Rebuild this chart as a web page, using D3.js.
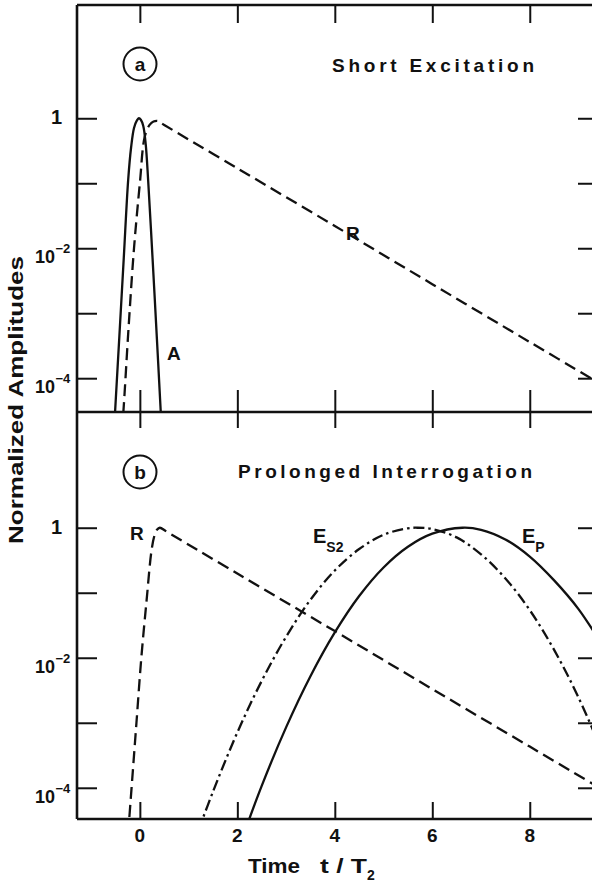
<!DOCTYPE html>
<html>
<head>
<meta charset="utf-8">
<script src="https://cdn.jsdelivr.net/npm/d3@7"></script>
<style>
  html, body { margin: 0; padding: 0; background: #fff; }
  svg { display: block; }
  text { font-family: "Liberation Sans", Arial, sans-serif; font-weight: bold; fill: #111; }
</style>
</head>
<body>
<svg id="chart" width="592" height="885"></svg>
<script>
// ---------- data ----------
const xTicks = [0, 2, 4, 6, 8];
const yTicks = [1, 0.1, 0.01, 0.001, 0.0001];
const yLabelExps = [0, -2, -4];

// panel (a): short excitation
const timeA = [-0.55, -0.51, -0.42, -0.33, -0.24, -0.18, -0.12, -0.06, -0.02, 0.02, 0.07, 0.12, 0.17, 0.26, 0.35, 0.43, 0.47];
const ampA  = [7.9e-6, 2.9e-5, 4.5e-4, 7.1e-3, 0.112, 0.355, 0.71, 0.93, 1, 0.95, 0.76, 0.40, 0.112, 7.1e-3, 4.0e-4, 2.9e-5, 7.9e-6];

const timeRa = [-0.4, -0.34, -0.23, -0.12, 0, 0.1, 0.2, 0.28, 0.37, 0.5, 2, 4, 6, 8, 9.5];
const ampRa  = [7.9e-6, 2.9e-5, 6.3e-4, 0.01, 0.1, 0.52, 0.79, 0.89, 0.91, 0.79, 0.17, 0.022, 2.8e-3, 3.6e-4, 7.8e-5];

// panel (b): prolonged interrogation
const timeRb = [-0.27, -0.17, -0.07, 0.03, 0.14, 0.24, 0.3, 0.35, 0.41, 0.55, 2, 4, 6, 8, 9.5];
const ampRb  = [1e-5, 1e-4, 1e-3, 0.01, 0.079, 0.45, 0.76, 0.93, 1, 0.87, 0.197, 0.0257, 3.3e-3, 4.3e-4, 9.3e-5];

const timeES2 = [1.2, 1.5, 2, 2.5, 3, 3.5, 4, 4.5, 5, 5.5, 5.7, 6, 6.5, 7, 7.5, 8, 8.5, 9, 9.5];
const ampES2  = [2.2e-5, 8.7e-5, 7.1e-4, 4.4e-3, 0.021, 0.078, 0.22, 0.47, 0.78, 0.98, 1, 0.955, 0.71, 0.39, 0.166, 0.054, 0.0132, 2.45e-3, 3.4e-4];

const timeEP = [2.1, 2.5, 3, 3.5, 4, 4.5, 5, 5.5, 6, 6.62, 7, 7.5, 8, 8.5, 9, 9.5];
const ampEP  = [1.66e-5, 1.07e-4, 8.5e-4, 5.2e-3, 0.0245, 0.089, 0.245, 0.51, 0.81, 1, 0.93, 0.66, 0.36, 0.155, 0.056, 0.015];

// ---------- layout ----------
const svg = d3.select("#chart");
const L = 77, R = 598;
const topA = 5, botA = 412, topB = 412, botB = 819;

const x = d3.scaleLinear().domain([-1.3, 9.4]).range([L - 0.5, R]);
const yA = d3.scaleLog().domain([Math.pow(10, 1.743), Math.pow(10, -4.52)]).range([topA, botA]);
const yB = d3.scaleLog().domain([Math.pow(10, 1.78), Math.pow(10, -4.48)]).range([topB, botB]);

const zip = (t, a) => t.map((v, i) => [v, a[i]]);

// clip paths
const defs = svg.append("defs");
defs.append("clipPath").attr("id", "clipA").append("rect")
  .attr("x", L).attr("y", topA).attr("width", R - L).attr("height", botA - topA);
defs.append("clipPath").attr("id", "clipB").append("rect")
  .attr("x", L).attr("y", topB).attr("width", R - L).attr("height", botB - topB);

function drawCurve(y, clip, data, dash) {
  const line = d3.line().x(d => x(d[0])).y(d => y(d[1])).curve(d3.curveCatmullRom.alpha(0.5));
  svg.append("path")
    .attr("clip-path", `url(#${clip})`)
    .attr("d", line(data))
    .attr("fill", "none")
    .attr("stroke", "#111")
    .attr("stroke-width", 2.3)
    .attr("stroke-dasharray", dash || null)
    .attr("stroke-linejoin", "round");
}

// curves
drawCurve(yA, "clipA", zip(timeA, ampA), null);
drawCurve(yA, "clipA", zip(timeRa, ampRa), "12,6");
drawCurve(yB, "clipB", zip(timeRb, ampRb), "12,6");
drawCurve(yB, "clipB", zip(timeES2, ampES2), "11,4,2.5,4");
drawCurve(yB, "clipB", zip(timeEP, ampEP), null);

// ---------- axes ----------
function styleAxis(g) {
  g.select(".domain").remove();
  g.selectAll(".tick line").attr("stroke", "#111").attr("stroke-width", 2);
  g.selectAll(".tick text").remove();
}
[yA, yB].forEach(y => {
  svg.append("g").attr("transform", `translate(${L},0)`)
    .call(d3.axisLeft(y).tickValues(yTicks).tickSize(-20)).call(styleAxis);
  svg.append("g").attr("transform", `translate(${R},0)`)
    .call(d3.axisRight(y).tickValues(yTicks).tickSize(-20)).call(styleAxis);
});
svg.append("g").attr("transform", `translate(0,${topA})`)
  .call(d3.axisTop(x).tickValues(xTicks).tickSize(-18)).call(styleAxis);
svg.append("g").attr("transform", `translate(0,${botA})`)
  .call(d3.axisBottom(x).tickValues(xTicks).tickSize(-22)).call(styleAxis);
svg.append("g").attr("transform", `translate(0,${topB})`)
  .call(d3.axisTop(x).tickValues(xTicks).tickSize(-16)).call(styleAxis);
svg.append("g").attr("transform", `translate(0,${botB})`)
  .call(d3.axisBottom(x).tickValues(xTicks).tickSize(-17)).call(styleAxis);

// frame
const frame = svg.append("g").attr("stroke", "#111").attr("stroke-width", 2.6).attr("fill", "none");
frame.append("line").attr("x1", L).attr("x2", L).attr("y1", topA).attr("y2", botB);
frame.append("line").attr("x1", L).attr("x2", R).attr("y1", topA).attr("y2", topA);
frame.append("line").attr("x1", L).attr("x2", R).attr("y1", botA).attr("y2", botA);
frame.append("line").attr("x1", L).attr("x2", R).attr("y1", botB).attr("y2", botB);
frame.append("line").attr("x1", R).attr("x2", R).attr("y1", topA).attr("y2", botB);

// y tick labels
[yA, yB].forEach(y => {
  yLabelExps.forEach(e => {
    const ty = y(Math.pow(10, e));
    if (e === 0) {
      svg.append("text").attr("x", 62).attr("y", ty + 6)
        .attr("text-anchor", "end").attr("font-size", 20).text("1");
    } else {
      const t = svg.append("text").attr("x", 35).attr("y", ty + 15).attr("font-size", 18);
      t.append("tspan").text("10");
      t.append("tspan").attr("dx", 0.5).attr("dy", -10).attr("font-size", 13).text("\u2212" + (-e));
    }
  });
});

// x tick labels
xTicks.forEach(v => {
  svg.append("text").attr("x", x(v)).attr("y", 842)
    .attr("text-anchor", "middle").attr("font-size", 19).text(v);
});

// axis titles
const xt = svg.append("text").attr("x", 248).attr("y", 873).attr("font-size", 21);
xt.append("tspan").attr("textLength", 52).attr("lengthAdjust", "spacingAndGlyphs").text("Time");
xt.append("tspan").attr("x", 320).attr("textLength", 47).attr("lengthAdjust", "spacingAndGlyphs").text("t / T");
xt.append("tspan").attr("x", 367).attr("y", 880).attr("font-size", 14).text("2");

svg.append("text")
  .attr("transform", "translate(23,400) rotate(-90)")
  .attr("text-anchor", "middle")
  .attr("font-size", 21)
  .attr("textLength", 288).attr("lengthAdjust", "spacingAndGlyphs")
  .text("Normalized  Amplitudes");

// panel labels
function circled(cx, cy, letter) {
  svg.append("circle").attr("cx", cx).attr("cy", cy).attr("r", 16.5)
    .attr("fill", "none").attr("stroke", "#111").attr("stroke-width", 2);
  svg.append("text").attr("x", cx).attr("y", cy + 6.5).attr("text-anchor", "middle")
    .attr("font-size", 19).text(letter);
}
circled(140, 64, "a");
circled(140, 472, "b");

svg.append("text").attr("x", 332).attr("y", 72).attr("font-size", 19)
  .attr("textLength", 202).attr("lengthAdjust", "spacing").text("Short Excitation");
svg.append("text").attr("x", 238).attr("y", 478).attr("font-size", 19)
  .attr("textLength", 294).attr("lengthAdjust", "spacing").text("Prolonged Interrogation");

// curve labels
svg.append("text").attr("x", 346).attr("y", 240).attr("font-size", 19).text("R");
svg.append("text").attr("x", 167).attr("y", 360).attr("font-size", 19).text("A");
svg.append("text").attr("x", 130).attr("y", 540).attr("font-size", 19).text("R");
const es = svg.append("text").attr("x", 313).attr("y", 543).attr("font-size", 20);
es.append("tspan").text("E");
es.append("tspan").attr("dy", 9).attr("font-size", 14).text("S2");
const ep = svg.append("text").attr("x", 522).attr("y", 543).attr("font-size", 20);
ep.append("tspan").text("E");
ep.append("tspan").attr("dy", 9).attr("font-size", 14).text("P");
</script>
</body>
</html>
